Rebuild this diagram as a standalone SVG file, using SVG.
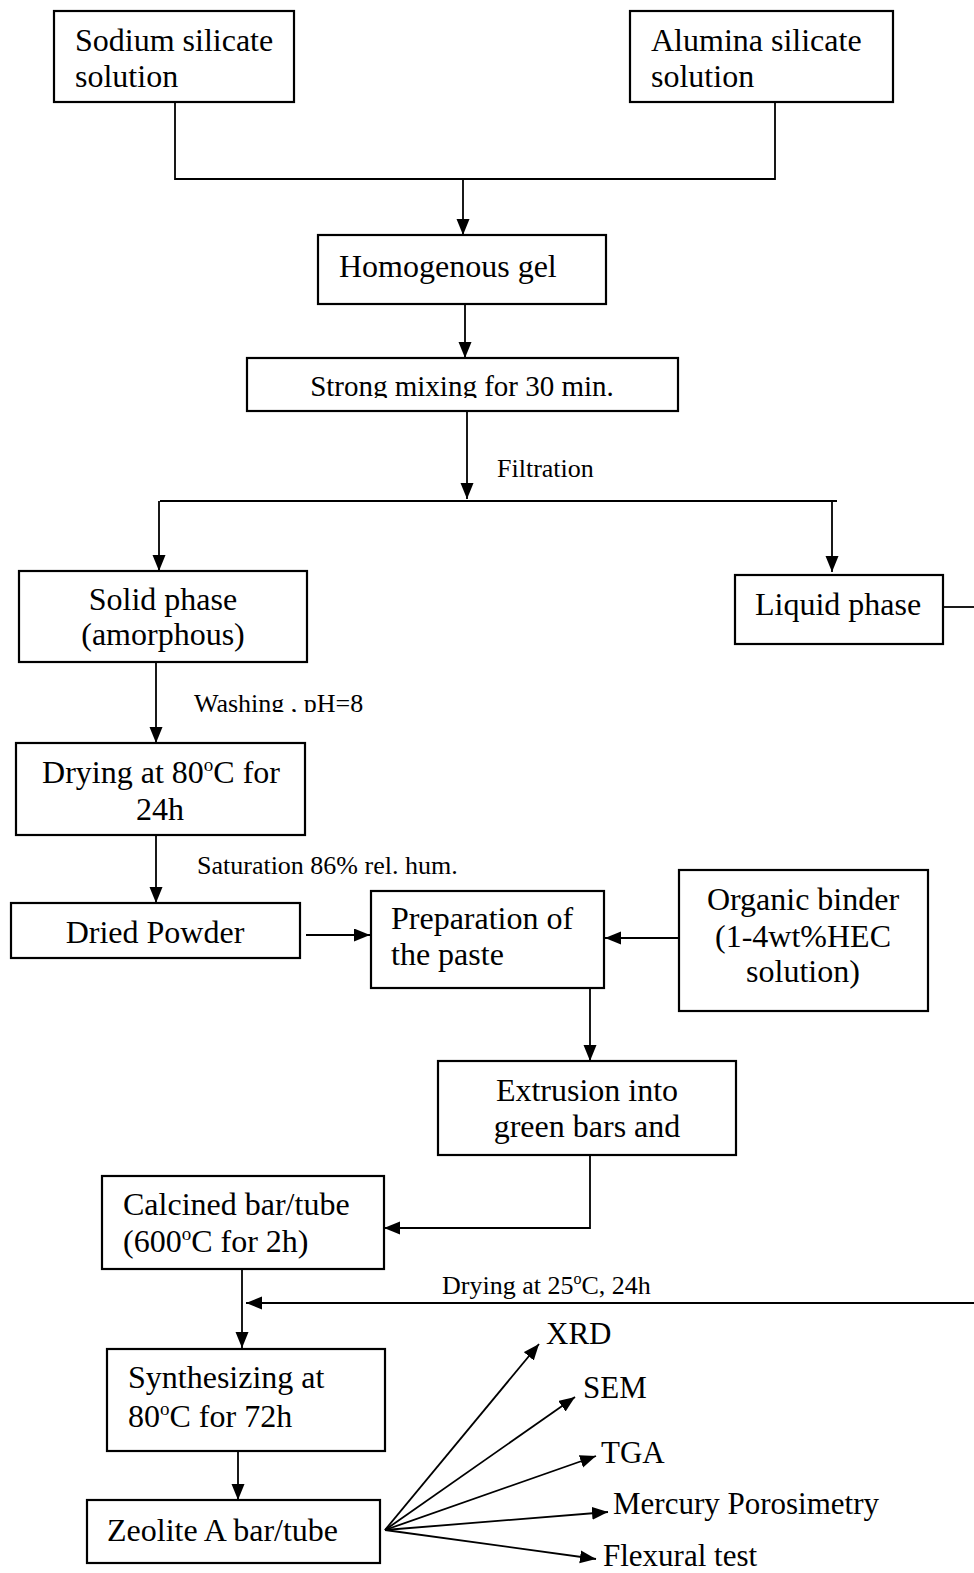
<svg xmlns="http://www.w3.org/2000/svg" width="974" height="1573" viewBox="0 0 974 1573">
<style>
.box{fill:#fff;stroke:#000;stroke-width:2.2}
.t{font-family:"Liberation Serif","Times New Roman",serif;font-size:32px;fill:#000}
.m{text-anchor:middle}
.s{font-family:"Liberation Serif","Times New Roman",serif;font-size:26px;fill:#000}
.c{fill:none;stroke:#000;stroke-width:1.8}
</style>
<defs>
<marker id="ah" markerUnits="userSpaceOnUse" markerWidth="17" markerHeight="14" refX="16" refY="6.5" orient="auto">
<path d="M0,0 L16,6.5 L0,13 Z" fill="#000"/>
</marker>
<clipPath id="clipMix"><rect x="250" y="360" width="425" height="38"/></clipPath>
<clipPath id="clipWash"><rect x="180" y="680" width="220" height="32"/></clipPath>
</defs>

<g id="connectors">
<polyline class="c" points="175,102 175,179 775,179 775,102"/>
<line class="c" x1="463" y1="179" x2="463" y2="235" marker-end="url(#ah)"/>
<line class="c" x1="465" y1="304" x2="465" y2="358" marker-end="url(#ah)"/>
<line class="c" x1="467" y1="411" x2="467" y2="499" marker-end="url(#ah)"/>
<line class="c" x1="160" y1="501" x2="837" y2="501" stroke-width="2.2"/>
<line class="c" x1="159" y1="501" x2="159" y2="571" marker-end="url(#ah)"/>
<line class="c" x1="832" y1="501" x2="832" y2="572" marker-end="url(#ah)"/>
<line class="c" x1="943" y1="607" x2="974" y2="607"/>
<line class="c" x1="156" y1="662" x2="156" y2="743" marker-end="url(#ah)"/>
<line class="c" x1="156" y1="835" x2="156" y2="903" marker-end="url(#ah)"/>
<line class="c" x1="306" y1="935" x2="370" y2="935" stroke-width="2.2" marker-end="url(#ah)"/>
<line class="c" x1="679" y1="938" x2="605" y2="938" stroke-width="2.2" marker-end="url(#ah)"/>
<line class="c" x1="590" y1="988" x2="590" y2="1061" marker-end="url(#ah)"/>
<polyline class="c" points="590,1155 590,1228 384,1228" marker-end="url(#ah)"/>
<line class="c" x1="974" y1="1303" x2="246" y2="1303" stroke-width="2.2" marker-end="url(#ah)"/>
<line class="c" x1="242" y1="1269" x2="242" y2="1348" marker-end="url(#ah)"/>
<line class="c" x1="238" y1="1451" x2="238" y2="1500" marker-end="url(#ah)"/>
<line class="c" x1="385" y1="1530" x2="539" y2="1344" marker-end="url(#ah)"/>
<line class="c" x1="385" y1="1530" x2="575" y2="1397" marker-end="url(#ah)"/>
<line class="c" x1="385" y1="1530" x2="596" y2="1456" marker-end="url(#ah)"/>
<line class="c" x1="385" y1="1530" x2="608" y2="1512" marker-end="url(#ah)"/>
<line class="c" x1="385" y1="1530" x2="596" y2="1559" marker-end="url(#ah)"/>
</g>

<g id="sodium">
<rect class="box" x="54" y="11" width="240" height="91"/>
<text class="t" x="75" y="51">Sodium silicate</text>
<text class="t" x="75" y="87">solution</text>
</g>
<g id="alumina">
<rect class="box" x="630" y="11" width="263" height="91"/>
<text class="t" x="651" y="51">Alumina silicate</text>
<text class="t" x="651" y="87">solution</text>
</g>
<g id="gel">
<rect class="box" x="318" y="235" width="288" height="69"/>
<text class="t" x="339" y="277">Homogenous gel</text>
</g>
<g id="mixing">
<rect class="box" x="247" y="358" width="431" height="53"/>
<text class="t m" x="462" y="396" style="font-size:29px" clip-path="url(#clipMix)">Strong mixing for 30 min.</text>
</g>
<g id="filtration-label">
<text class="s" x="497" y="477">Filtration</text>
</g>
<g id="solid">
<rect class="box" x="19" y="571" width="288" height="91"/>
<text class="t m" x="163" y="610">Solid phase</text>
<text class="t m" x="163" y="645">(amorphous)</text>
</g>
<g id="liquid">
<rect class="box" x="735" y="575" width="208" height="69"/>
<text class="t" x="755" y="615">Liquid phase</text>
</g>
<g id="washing-label">
<text class="s" x="194" y="712" clip-path="url(#clipWash)">Washing , pH=8</text>
</g>
<g id="drying80">
<rect class="box" x="16" y="743" width="289" height="92"/>
<text class="t m" x="161" y="783">Drying at 80<tspan font-size="19" dy="-12">o</tspan><tspan dy="12">C for</tspan></text>
<text class="t m" x="160" y="820">24h</text>
</g>
<g id="saturation-label">
<text class="s" x="197" y="874">Saturation 86% rel. hum.</text>
</g>
<g id="powder">
<rect class="box" x="11" y="903" width="289" height="55"/>
<text class="t m" x="155" y="943">Dried Powder</text>
</g>
<g id="paste">
<rect class="box" x="371" y="891" width="233" height="97"/>
<text class="t" x="391" y="929">Preparation of</text>
<text class="t" x="391" y="965">the paste</text>
</g>
<g id="binder">
<rect class="box" x="679" y="870" width="249" height="141"/>
<text class="t m" x="803" y="910">Organic binder</text>
<text class="t m" x="803" y="947">(1-4wt%HEC</text>
<text class="t m" x="803" y="982">solution)</text>
</g>
<g id="extrusion">
<rect class="box" x="438" y="1061" width="298" height="94"/>
<text class="t m" x="587" y="1101">Extrusion into</text>
<text class="t m" x="587" y="1137">green bars and</text>
</g>
<g id="calcined">
<rect class="box" x="102" y="1176" width="282" height="93"/>
<text class="t" x="123" y="1215">Calcined bar/tube</text>
<text class="t" x="123" y="1252">(600<tspan font-size="19" dy="-12">o</tspan><tspan dy="12">C for 2h)</tspan></text>
</g>
<g id="drying25-label">
<text class="s" x="442" y="1294">Drying at 25<tspan font-size="16" dy="-10">o</tspan><tspan dy="10">C, 24h</tspan></text>
</g>
<g id="synth">
<rect class="box" x="107" y="1349" width="278" height="102"/>
<text class="t" x="128" y="1388">Synthesizing at</text>
<text class="t" x="128" y="1427">80<tspan font-size="19" dy="-12">o</tspan><tspan dy="12">C for 72h</tspan></text>
</g>
<g id="zeolite">
<rect class="box" x="87" y="1500" width="293" height="63"/>
<text class="t" x="107" y="1541">Zeolite A bar/tube</text>
</g>
<g id="xrd"><text class="t" x="546" y="1344" style="font-size:31px">XRD</text></g>
<g id="sem"><text class="t" x="583" y="1398" style="font-size:31px">SEM</text></g>
<g id="tga"><text class="t" x="601" y="1463" style="font-size:31px">TGA</text></g>
<g id="mercury"><text class="t" x="613" y="1514" style="font-size:31px">Mercury Porosimetry</text></g>
<g id="flexural"><text class="t" x="603" y="1566" style="font-size:31px">Flexural test</text></g>
</svg>
